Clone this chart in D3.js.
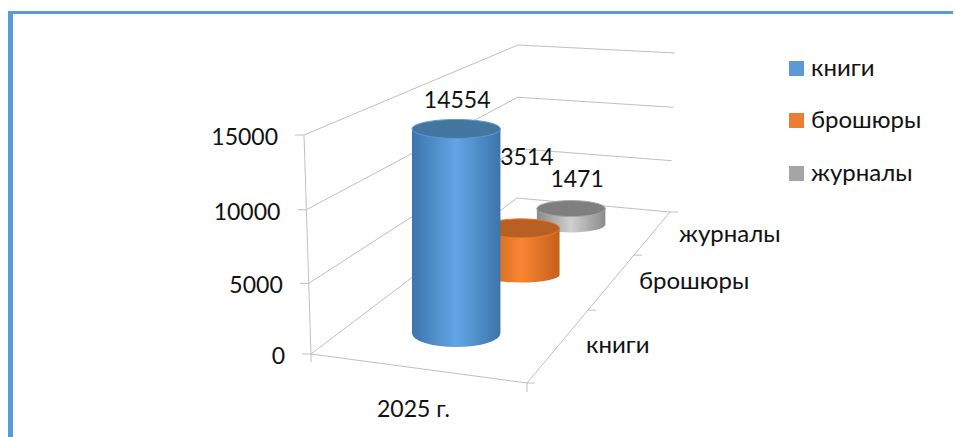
<!DOCTYPE html>
<html>
<head>
<meta charset="utf-8">
<script src="https://cdnjs.cloudflare.com/ajax/libs/d3/7.8.5/d3.min.js"></script>
<style>
  html, body { margin: 0; padding: 0; background: #fff; }
  svg { display: block; }
  text { font-family: Lato, "Open Sans", sans-serif; fill: #111; }
</style>
</head>
<body>
<div id="chart"></div>
<script>
// data
var categories = ["книги", "брошюры", "журналы"]
var values = [14554, 3514, 1471]
var valueTicks = [0, 5000, 10000, 15000]
var yearLabel = "2025 г."

var width = 955, height = 437
var fontSize = 23
var labelSize = 24

// chart box as it sits in the picture: floor and top corners
var floorFL = [311, 354], floorFR = [527, 383], floorBR = [670, 212], floorBL = [517, 198]
var topFL = [304, 135], topBL = [518, 45], topBR = [675, 53]

var seriesColors = {
  side: [["#3d74ab", "#62a6e6"], ["#c4611c", "#f98532"], ["#8b8b8b", "#cfcfcf"]],
  top: ["#44769f", "#b85f24", "#7f7f7f"],
  rim: ["#5b9bd5", "#e8792e", "#a5a5a5"],
  legend: ["#5b9bd5", "#ed7d31", "#a5a5a5"]
}
// cylinder shape tweaks, the picture is not a clean projection
var topRy = [9.5, 9.5, 8]
var bottomRy = [14, 7.5, 8]
var bottomDy = [2, 4, 0]
var labelDx = [1, 6, 6]
var labelDy = [-21, -63, -22]

var svg = d3.select("#chart").append("svg")
  .attr("width", width)
  .attr("height", height)

// frame
svg.append("rect").attr("x", 8).attr("y", 11).attr("width", 945).attr("height", 3).attr("fill", "#5b9bd5")
svg.append("rect").attr("x", 8).attr("y", 11).attr("width", 5).attr("height", height - 11).attr("fill", "#5b9bd5")

// floor homography, unit square -> picture
function makeFloor(p0, p1, p2, p3) {
  var dx1 = p1[0] - p2[0], dy1 = p1[1] - p2[1]
  var dx2 = p3[0] - p2[0], dy2 = p3[1] - p2[1]
  var sx = p0[0] - p1[0] + p2[0] - p3[0], sy = p0[1] - p1[1] + p2[1] - p3[1]
  var den = dx1 * dy2 - dx2 * dy1
  var g = (sx * dy2 - dx2 * sy) / den
  var h = (dx1 * sy - sx * dy1) / den
  var a = p1[0] - p0[0] + g * p1[0], b = p3[0] - p0[0] + h * p3[0]
  var d = p1[1] - p0[1] + g * p1[1], e = p3[1] - p0[1] + h * p3[1]
  return function(u, v) {
    var w = g * u + h * v + 1
    return { x: (a * u + b * v + p0[0]) / w, y: (d * u + e * v + p0[1]) / w, scale: 1 / w }
  }
}
var floor = makeFloor(floorFL, floorFR, floorBR, floorBL)

var depth = d3.scaleBand().domain(categories).range([0, 1])
var heightFrac = d3.scaleLinear().domain([0, 15000]).range([0, 1])
// wall lines get slightly closer together going down
var wallFrac = d3.scalePow().exponent(1.03).domain([0, 15000]).range([0, 1])
var frontHeight = floorFL[1] - topFL[1]
var baseRx = 46.5

function lift(p, q, val) {
  var t = wallFrac(val)
  return [p[0] + (q[0] - p[0]) * t, p[1] + (q[1] - p[1]) * t]
}

var gridColor = "#bfbfbf"
function line(g, p, q) {
  g.append("line")
    .attr("x1", p[0]).attr("y1", p[1])
    .attr("x2", q[0]).attr("y2", q[1])
    .attr("stroke", gridColor)
    .attr("stroke-width", 1)
}

var walls = svg.append("g")

// value gridlines and ticks
valueTicks.forEach(function(v) {
  var a = lift(floorFL, topFL, v)
  var b = lift(floorBL, topBL, v)
  var c = lift(floorBR, topBR, v)
  line(walls, a, b)
  line(walls, b, c)
  line(walls, a, [a[0] - 9, a[1]])
  svg.append("text")
    .attr("x", a[0] - 26)
    .attr("y", a[1] + 10)
    .attr("text-anchor", "end")
    .attr("font-size", fontSize)
    .text(d3.format("d")(v))
})
line(walls, floorFL, topFL)

// floor outline
line(walls, floorFL, floorFR)
line(walls, floorFR, floorBR)
line(walls, floorFL, [floorFL[0], floorFL[1] + 8])
line(walls, floorFR, [floorFR[0], floorFR[1] + 9])

// depth ticks
d3.range(categories.length + 1).forEach(function(i) {
  var p = floor(1, i / categories.length)
  line(walls, [p.x, p.y], [p.x + 8, p.y])
})

// depth labels
var depthLabelX = [586, 639, 679]
var depthLabelY = [353, 289, 242]
categories.forEach(function(c, i) {
  svg.append("text")
    .attr("x", depthLabelX[i])
    .attr("y", depthLabelY[i])
    .attr("font-size", labelSize)
    .text(c)
})

svg.append("text")
  .attr("x", 377)
  .attr("y", 417)
  .attr("font-size", fontSize)
  .text(yearLabel)

// gradients for cylinder sides
var defs = svg.append("defs")
categories.forEach(function(c, i) {
  var grad = defs.append("linearGradient").attr("id", "side" + i)
  grad.append("stop").attr("offset", "0%").attr("stop-color", seriesColors.side[i][0])
  grad.append("stop").attr("offset", "50%").attr("stop-color", seriesColors.side[i][1])
  grad.append("stop").attr("offset", "100%").attr("stop-color", seriesColors.side[i][0])
})

// cylinders, back to front
var bars = categories.map(function(c, i) {
  var v = depth(c) + depth.bandwidth() / 2
  var p = floor(0.5, v)
  var h = frontHeight * p.scale * heightFrac(values[i])
  return {
    i: i,
    cx: p.x,
    yBottom: p.y + bottomDy[i],
    yTop: p.y - h,
    rx: baseRx * p.scale
  }
}).reverse()

var cyl = svg.selectAll("g.cyl")
  .data(bars)
  .enter()
  .append("g")
  .attr("class", "cyl")

cyl.append("path")
  .attr("fill", function(d) { return "url(#side" + d.i + ")" })
  .attr("d", function(d) {
    return "M" + (d.cx - d.rx) + "," + d.yTop +
      " L" + (d.cx - d.rx) + "," + d.yBottom +
      " A" + d.rx + "," + bottomRy[d.i] + " 0 0 0 " + (d.cx + d.rx) + "," + d.yBottom +
      " L" + (d.cx + d.rx) + "," + d.yTop + " Z"
  })

cyl.append("ellipse")
  .attr("cx", function(d) { return d.cx })
  .attr("cy", function(d) { return d.yTop })
  .attr("rx", function(d) { return d.rx })
  .attr("ry", function(d) { return topRy[d.i] })
  .attr("fill", function(d) { return seriesColors.top[d.i] })
  .attr("stroke", function(d) { return seriesColors.rim[d.i] })
  .attr("stroke-width", 1)

// value labels
cyl.append("text")
  .attr("x", function(d) { return d.cx + labelDx[d.i] })
  .attr("y", function(d) { return d.yTop + labelDy[d.i] })
  .attr("text-anchor", "middle")
  .attr("font-size", fontSize)
  .text(function(d) { return values[d.i] })

// legend
var legendY = [61, 113, 166]
categories.forEach(function(c, i) {
  svg.append("rect")
    .attr("x", 789)
    .attr("y", legendY[i])
    .attr("width", 15)
    .attr("height", 15)
    .attr("fill", seriesColors.legend[i])
  svg.append("text")
    .attr("x", 811)
    .attr("y", legendY[i] + 15)
    .attr("font-size", labelSize)
    .text(c)
})
</script>
</body>
</html>
